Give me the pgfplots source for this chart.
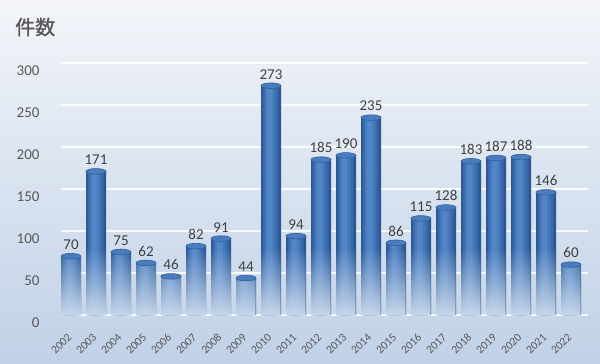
\documentclass[border=0pt]{standalone}
\usepackage{fontspec}
\setmainfont{Carlito}
\newfontfamily\cjk{Noto Sans CJK JP}[FakeBold=1.2]
\usepackage{pgfplots}
\usepackage{pgfplotstable}
\pgfplotsset{compat=1.18}
\usetikzlibrary{fadings}
\definecolor{bgtop}{HTML}{F3F5F9}
\definecolor{bgbot}{HTML}{C0D1E7}
\definecolor{barA}{HTML}{2B5790}
\definecolor{barB}{HTML}{3768A8}
\definecolor{barC}{HTML}{4478BA}
\definecolor{barD}{HTML}{5185C6}
\definecolor{capfill}{HTML}{4A7DBE}
\definecolor{capdraw}{HTML}{2F5E9C}
\definecolor{fadecol}{HTML}{C8D7EB}
\definecolor{txt}{HTML}{595959}
\definecolor{lbl}{HTML}{404040}
\pgfplotstableread{
x v f
0 70 70
1 171 80
2 75 75
3 62 62
4 46 46
5 82 80
6 91 80
7 44 44
8 273 80
9 94 80
10 185 80
11 190 80
12 235 80
13 86 80
14 115 80
15 128 80
16 183 80
17 187 80
18 188 80
19 146 80
20 60 60
}\data
\begin{document}
\begin{tikzpicture}
\useasboundingbox (0,0) rectangle (600bp,364bp);
\shade[top color=bgtop, bottom color=bgbot] (0,0) rectangle (600bp,364bp);
\node[anchor=west, text=txt, font=\cjk\fontsize{20bp}{24bp}\selectfont, inner sep=0] at (15bp,337bp) {件数};
\begin{axis}[
  at={(61bp,49bp)}, anchor=south west,
  scale only axis, width=527bp, height=252bp,
  xmin=-0.4, xmax=20.68, ymin=0, ymax=300,
  ytick={0,50,...,300},
  xtick={0,...,20},
  xticklabels={2002,2003,2004,2005,2006,2007,2008,2009,2010,2011,2012,2013,2014,2015,2016,2017,2018,2019,2020,2021,2022},
  axis line style={draw=none},
  major tick length=0pt,
  ymajorgrids,
  grid style={white, line width=1.6bp, opacity=0.9},
  /pgf/number format/assume math mode=true,
  yticklabel style={font=\fontsize{15bp}{18bp}\selectfont, text=txt, anchor=east, xshift=-18bp, yshift=-8bp},
  xticklabel style={font=\fontsize{11.5bp}{14bp}\selectfont, text=txt, anchor=east, xshift=1bp, yshift=-18bp, rotate=45},
  clip=false,
]
\addplot[ybar, bar width=20bp, bar shift=0pt, draw=none, fill=barA,
  nodes near coords,
  nodes near coords style={font=\fontsize{15bp}{18bp}\selectfont, text=lbl, yshift=3bp, /pgf/number format/assume math mode=true}]
  table[x=x, y=v] {\data};
\addplot[ybar, bar width=16bp, bar shift=-0.5bp, draw=none, fill=barB] table[x=x, y=v] {\data};
\addplot[ybar, bar width=11bp, bar shift=-1bp, draw=none, fill=barC] table[x=x, y=v] {\data};
\addplot[ybar, bar width=6bp, bar shift=-1.5bp, draw=none, fill=barD] table[x=x, y=v] {\data};
\addplot[ybar, bar width=20bp, bar shift=0pt, draw=none, fill=fadecol, path fading=north]
  table[x=x, y=f] {\data};
\addplot[only marks, mark=*, mark size=10bp,
  mark options={yscale=0.28, fill=capfill, draw=capdraw, line width=0.6bp}]
  table[x=x, y=v] {\data};
\end{axis}
\end{tikzpicture}
\end{document}
